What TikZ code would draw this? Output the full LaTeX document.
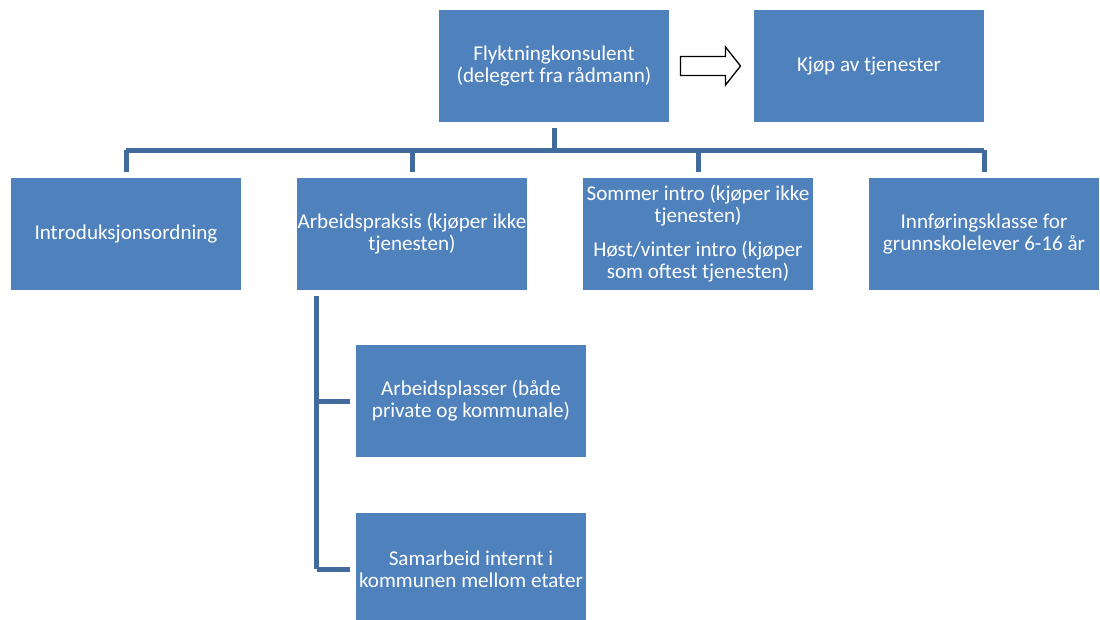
\documentclass[tikz,border=0pt]{standalone}
\usepackage{fontspec}
\setmainfont{Carlito}
\usetikzlibrary{calc}
\definecolor{boxblue}{RGB}{79,129,189}
\definecolor{linkblue}{RGB}{65,106,157}
\tikzset{
  orgbox/.style={fill=boxblue, draw=none, minimum width=230pt, minimum height=112pt,
    inner sep=0pt, text=white, font=\fontsize{21.1}{22}\selectfont, align=center},
  conn/.style={draw=linkblue, line width=5pt, line cap=butt, line join=miter},
  bigarrow/.style={draw=black, fill=white, line width=1.3pt, line join=miter}
}
\begin{document}
\begin{tikzpicture}[x=1pt,y=-1pt]
\useasboundingbox (0,0) rectangle (1100,619);
\clip (0,0) rectangle (1100,619);
\node[orgbox] (top) at (554,66) {Flyktningkonsulent\\(delegert fra rådmann)};
\node[orgbox] (kjop) at (869,66) {Kjøp av tjenester};
\node[orgbox] (intro) at (126,234) {Introduksjonsordning};
\node[orgbox] (arb) at (412,234) {Arbeidspraksis (kjøper ikke\\tjenesten)};
\node[orgbox] (som) at (698,234) {Sommer intro (kjøper ikke\\tjenesten)\\[12pt]Høst/vinter intro (kjøper\\som oftest tjenesten)};
\node[orgbox] (innf) at (984,234) {Innføringsklasse for\\grunnskolelever 6-16 år};
\node[orgbox] (ap) at (471,401) {Arbeidsplasser (både\\private og kommunale)};
\node[orgbox] (sam) at (471,569) {Samarbeid internt i\\kommunen mellom etater};
% hierarchy connectors
\coordinate (bus) at ($(top.south)+(0,28)$);
\draw[conn] ([yshift=-6pt]top.south) -- (bus);
\draw[conn] (bus -| intro.north) -- (bus -| innf.north);
\foreach \n in {intro,arb,som,innf}
  \draw[conn] (bus -| \n.north) -- ([yshift=6pt]\n.north);
% sub connectors
\coordinate (sub) at ($(arb.south west)+(20,6)$);
\draw[conn] (sub) -- (sub |- sam.west);
\draw[conn] (sub |- ap.west) -- ([xshift=-6pt]ap.west);
\draw[conn] (sub |- sam.west) -- ([xshift=-6pt]sam.west);
% block arrow
\coordinate (am) at ($(top.east)!0.5!(kjop.west)$);
\draw[bigarrow] ($(am)+(-31,-9.5)$) -- ($(am)+(14,-9.5)$) -- ($(am)+(14,-19)$)
  -- ($(am)+(29,0)$) -- ($(am)+(14,19)$) -- ($(am)+(14,9.5)$) -- ($(am)+(-31,9.5)$) -- cycle;
\end{tikzpicture}
\end{document}
